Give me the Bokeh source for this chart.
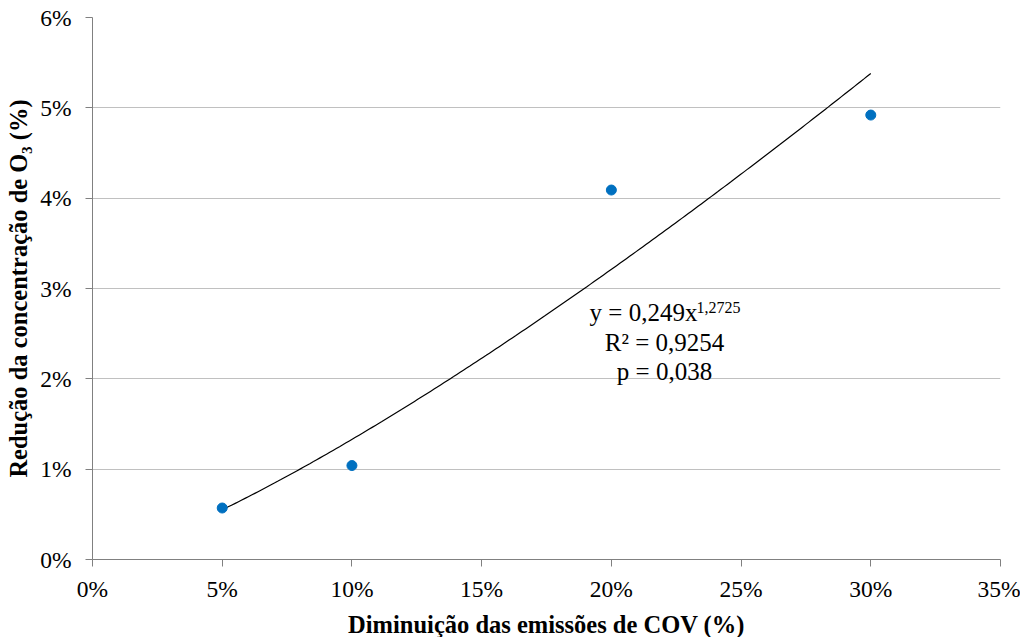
import numpy as np
from bokeh.plotting import figure
from bokeh.models import NumeralTickFormatter, FixedTicker, Label
from bokeh.embed import file_html
from bokeh.resources import INLINE

# Data
voc_reduction = [0.05, 0.10, 0.20, 0.30]
o3_reduction = [0.0057, 0.0104, 0.0409, 0.0492]

# Power trendline as shown on the chart: y = 0.249 * x^1.2725
coef_a = 0.249
coef_b = 1.2725
trend_x_start = 0.05
trend_x_end = 0.30

x_ticks = [0.0, 0.05, 0.10, 0.15, 0.20, 0.25, 0.30, 0.35]
y_ticks = [0.0, 0.01, 0.02, 0.03, 0.04, 0.05, 0.06]

FONT = "Liberation Serif"

p = figure(frame_width=908, frame_height=542, x_range=(0, 0.35), y_range=(0, 0.06),
           output_backend="svg", toolbar_location=None,
           min_border_left=92, min_border_right=20, min_border_top=17, min_border_bottom=40)
p.outline_line_color = None
p.background_fill_color = "white"

# Axes
for ax in (p.xaxis[0], p.yaxis[0]):
    ax.formatter = NumeralTickFormatter(format="0%")
    ax.major_label_text_font = FONT
    ax.major_label_text_font_size = "23.5px"
    ax.major_label_text_color = "black"
    ax.axis_label_text_font = FONT
    ax.axis_label_text_font_size = "24.5px"
    ax.axis_label_text_font_style = "bold"
    ax.axis_label_text_color = "black"
    ax.axis_line_color = "#808080"
    ax.major_tick_line_color = "#808080"
    ax.major_tick_in = 0
    ax.major_tick_out = 7
    ax.minor_tick_line_color = None

p.xaxis[0].major_label_standoff = 9
p.yaxis[0].major_label_standoff = 14
p.xaxis[0].ticker = FixedTicker(ticks=x_ticks)
p.yaxis[0].ticker = FixedTicker(ticks=y_ticks)
p.xaxis[0].axis_label = "Diminuição das emissões de COV (%)"
p.yaxis[0].axis_label = "Redução da concentração de O₃ (%)"
p.xaxis[0].axis_label_standoff = 6
p.yaxis[0].axis_label_standoff = 5

p.xgrid.grid_line_color = None
p.ygrid.grid_line_color = "#c0c0c0"
p.ygrid.grid_line_width = 1
p.ygrid.ticker = FixedTicker(ticks=y_ticks)

# Trendline
tx = np.linspace(trend_x_start, trend_x_end, 200)
ty = coef_a * tx ** coef_b
p.line(tx, ty, line_color="black", line_width=1.2)

# Points
p.scatter(voc_reduction, o3_reduction, size=10, color="#0070C0", line_color="#0070C0")

# Equation annotation
p.add_layout(Label(x=0.1916, y=0.02734, text="y = 0,249x", text_font=FONT, text_color="black",
                   text_font_size="25px", text_align="left", text_baseline="alphabetic"))
p.add_layout(Label(x=0.2328, y=0.0279, text="1,2725", text_font=FONT, text_color="black",
                   text_font_size="16px", text_align="left", text_baseline="alphabetic"))
p.add_layout(Label(x=0.2205, y=0.0240, text="R² = 0,9254", text_font=FONT, text_color="black",
                   text_font_size="25px", text_align="center", text_baseline="alphabetic"))
p.add_layout(Label(x=0.2205, y=0.0208, text="p = 0,038", text_font=FONT, text_color="black",
                   text_font_size="25px", text_align="center", text_baseline="alphabetic"))

open("out.html", "w").write(file_html(p, INLINE))
